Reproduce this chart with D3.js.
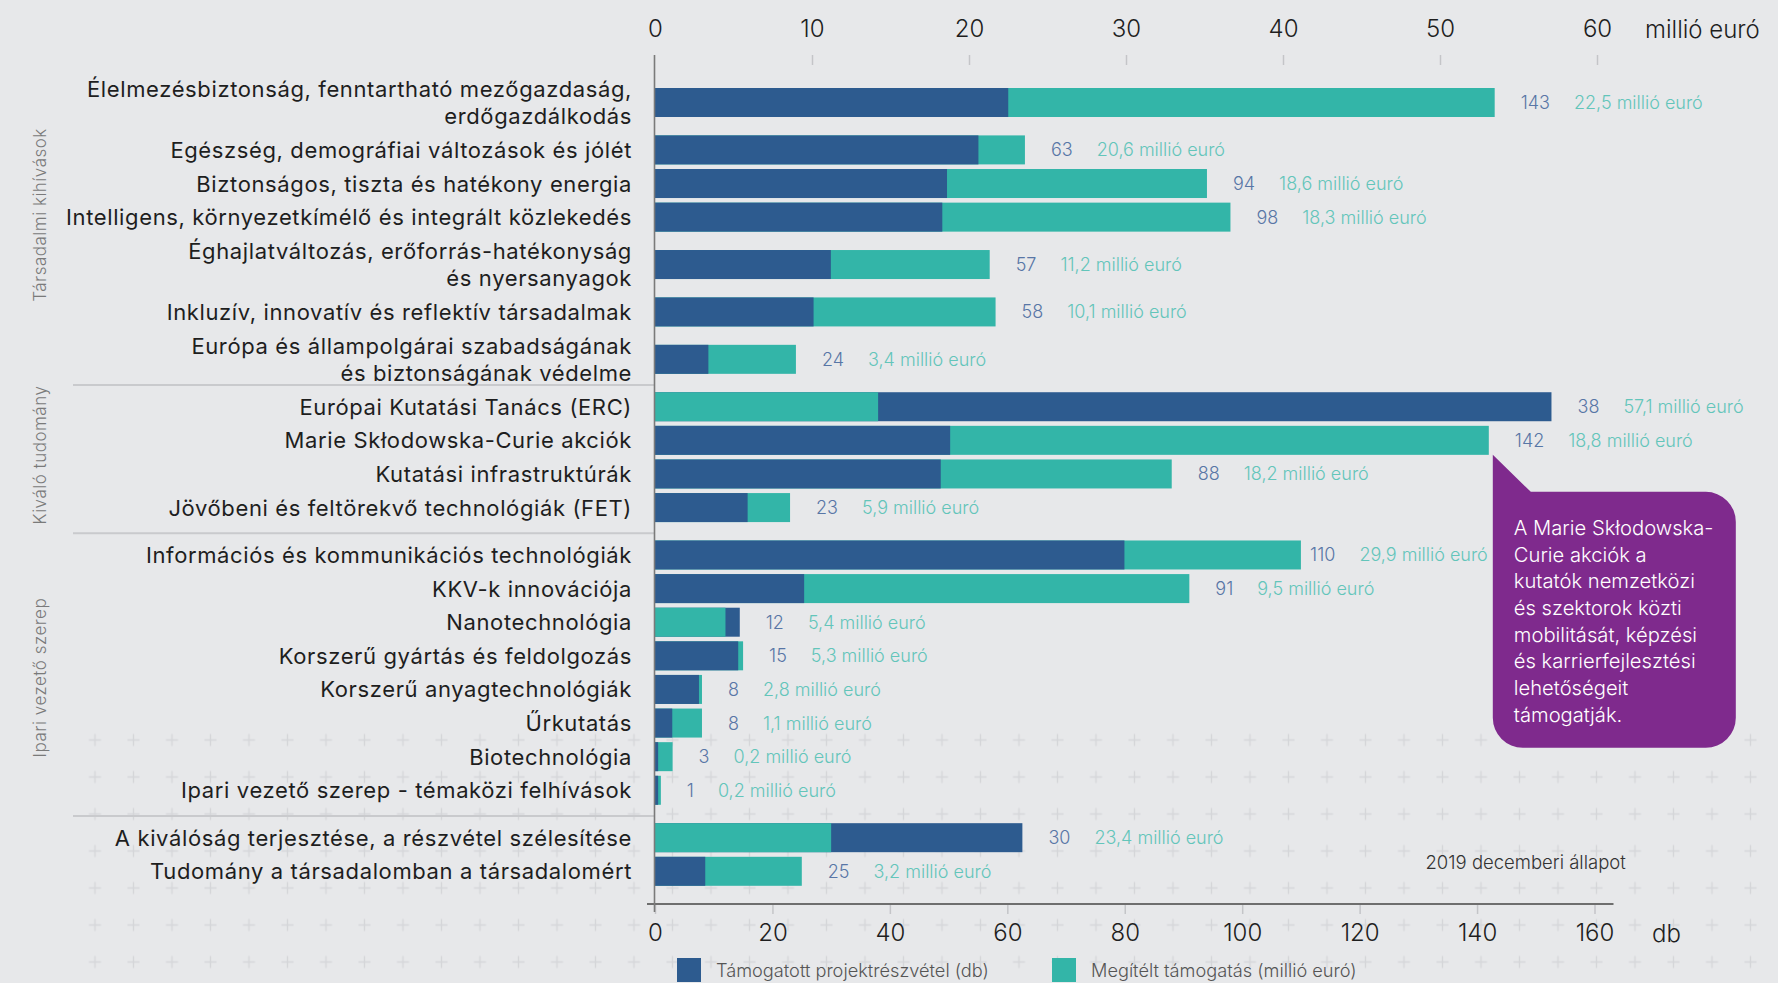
<!DOCTYPE html>
<html><head><meta charset="utf-8">
<script src="https://cdn.jsdelivr.net/npm/d3@7"></script>
<style>
html,body{margin:0;padding:0;background:#e7e8ea;}
svg{display:block;font-family:Inter,"Open Sans",sans-serif;}
</style></head><body>
<svg id="chart" width="1778" height="983"></svg>
<script>
const categories = [
  "Élelmezésbiztonság, fenntartható mezőgazdaság,\nerdőgazdálkodás",
  "Egészség, demográfiai változások és jólét",
  "Biztonságos, tiszta és hatékony energia",
  "Intelligens, környezetkímélő és integrált közlekedés",
  "Éghajlatváltozás, erőforrás-hatékonyság\nés nyersanyagok",
  "Inkluzív, innovatív és reflektív társadalmak",
  "Európa és állampolgárai szabadságának\nés biztonságának védelme",
  "Európai Kutatási Tanács (ERC)",
  "Marie Skłodowska-Curie akciók",
  "Kutatási infrastruktúrák",
  "Jövőbeni és feltörekvő technológiák (FET)",
  "Információs és kommunikációs technológiák",
  "KKV-k innovációja",
  "Nanotechnológia",
  "Korszerű gyártás és feldolgozás",
  "Korszerű anyagtechnológiák",
  "Űrkutatás",
  "Biotechnológia",
  "Ipari vezető szerep - témaközi felhívások",
  "A kiválóság terjesztése, a részvétel szélesítése",
  "Tudomány a társadalomban a társadalomért"
];
const groupNames = ["Társadalmi kihívások", "Kiváló tudomány", "Ipari vezető szerep", ""];
const rowGroup = [0,0,0,0,0,0,0,1,1,1,1,2,2,2,2,2,2,2,2,3,3];
const projectCounts = [143,63,94,98,57,58,24,38,142,88,23,110,91,12,15,8,8,3,1,30,25];
const fundingMEUR = [22.5,20.6,18.6,18.3,11.2,10.1,3.4,57.1,18.8,18.2,5.9,29.9,9.5,5.4,5.3,2.8,1.1,0.2,0.2,23.4,3.2];
const topTicks = [0,10,20,30,40,50,60];
const bottomTicks = [0,20,40,60,80,100,120,140,160];
const topUnit = "millió euró";
const bottomUnit = "db";
const legendLabels = ["Támogatott projektrészvétel (db)", "Megítélt támogatás (millió euró)"];
const calloutLines = ["A Marie Skłodowska-", "Curie akciók a", "kutatók nemzetközi", "és szektorok közti",
  "mobilitását, képzési", "és karrierfejlesztési", "lehetőségeit", "támogatják."];
const calloutRow = 8;
const noteText = "2019 decemberi állapot";

const C = { bg:"#e7e8ea", blue:"#2d5b8f", teal:"#33b5a8", purple:"#7f2a8d",
  countText:"#5876a6", euroText:"#63c5ba", ink:"#1e1e1e", grey:"#7a7a7a" };

const svg = d3.select("#chart");
svg.append("rect").attr("width",1778).attr("height",983).attr("fill",C.bg);

// background plus pattern
const defs = svg.append("defs");
const pat = defs.append("pattern").attr("id","plus").attr("patternUnits","userSpaceOnUse")
  .attr("width",38.5).attr("height",37).attr("x",95-19.25).attr("y",740-18.5);
pat.append("path").attr("d","M13.25,18.5h12M19.25,12.5v12").attr("stroke","#d5d6d9").attr("stroke-width",1.4).attr("fill","none");
svg.append("rect").attr("x",76).attr("y",721.5).attr("width",1702).attr("height",262).attr("fill","url(#plus)");

// scales
const xTop = d3.scaleLinear().domain([0,60]).range([655,1597]);
const xBot = d3.scaleLinear().domain([0,160]).range([655,1594.5]);
const units = [0];
for (let i=1;i<categories.length;i++){
  const extra = categories[i].includes("\n") || categories[i-1].includes("\n") || rowGroup[i]!==rowGroup[i-1];
  units.push(units[i-1] + (extra?1.41:1));
}
const yRow = d3.scaleLinear().domain([0, units[units.length-1]]).range([102.5, 871.3]);
const barH = 29;
const rows = categories.map((c,i)=>({i, label:c, group:rowGroup[i], count:projectCounts[i], eur:fundingMEUR[i], y:yRow(units[i])}));
const axisTopY = 55;

// separators between groups
const seps = rows.filter((r,i)=>i>0 && r.group!==rows[i-1].group).map(r=>(r.y + rows[r.i-1].y)/2 + 2);
svg.append("g").selectAll("line").data(seps).join("line")
  .attr("x1",73).attr("x2",xTop(0)).attr("y1",d=>d).attr("y2",d=>d)
  .attr("stroke","#c9cacd").attr("stroke-width",2);

// group labels (centred between group boundaries)
const bounds = [axisTopY, ...seps];
const gShift = [-5, -4, 3];
svg.append("g").selectAll("text").data(groupNames.slice(0,3)).join("text")
  .attr("transform", (g,i)=>`translate(40,${(bounds[i]+bounds[i+1])/2 + gShift[i]}) rotate(-90)`)
  .attr("text-anchor","middle").attr("dominant-baseline","central")
  .attr("font-size",17).attr("font-weight",300).attr("fill",C.grey).attr("letter-spacing",0.5)
  .text(g=>g);

// bars
const barG = svg.append("g");
rows.forEach(r=>{
  const items = [
    {w: xTop(r.eur)-xTop(0), color:C.blue},
    {w: xBot(r.count)-xBot(0), color:C.teal}
  ].sort((a,b)=>b.w-a.w);
  barG.append("g").selectAll("rect").data(items).join("rect")
    .attr("x",xTop(0)).attr("y",r.y-barH/2).attr("width",d=>d.w).attr("height",barH).attr("fill",d=>d.color);
});

// category labels
const lab = svg.append("g").selectAll("text").data(rows).join("text")
  .attr("text-anchor","end").attr("font-size",22).attr("letter-spacing",0.62).attr("fill",C.ink);
lab.each(function(r){
  const lines = r.label.split("\n");
  const t = d3.select(this);
  lines.forEach((ln,k)=>{
    t.append("tspan").attr("x",632)
      .attr("y", r.y + (k-(lines.length-1)/2)*26.8 + 8).text(ln);
  });
});

// callout geometry
const cr = rows[calloutRow];
const tipX = xBot(cr.count)+4, tipY = cr.y + barH/2;
const L = tipX, T = tipY+37, W = 243, H = 256, R = 30;

// value labels
const valG = svg.append("g");
rows.forEach(r=>{
  const end = Math.max(xTop(r.eur), xBot(r.count));
  const t1 = valG.append("text").attr("y", r.y+6.5)
    .attr("font-size",18).attr("font-weight",300).attr("fill",C.countText).text(r.count);
  const t2 = valG.append("text").attr("y", r.y+6.5)
    .attr("font-size",18).attr("font-weight",300).attr("fill",C.euroText)
    .text(r.eur.toFixed(1).replace(".",",") + " millió euró");
  const w1 = t1.node().getComputedTextLength(), w2 = t2.node().getComputedTextLength();
  let x0 = end + 26;
  const inCallout = r.y > T - barH/2 && r.y < T + H;
  if (inCallout) x0 = Math.min(x0, L - 5 - (w1 + 24 + w2));
  t1.attr("x", x0);
  t2.attr("x", x0 + w1 + 24);
});

// top axis
const topAxis = svg.append("g").attr("transform",`translate(0,${axisTopY+10})`)
  .call(d3.axisTop(xTop).tickValues(topTicks).tickSize(10).tickPadding(18));
topAxis.select(".domain").remove();
topAxis.selectAll(".tick line").attr("stroke","#c4c5c8").attr("stroke-width",1.5).filter(d=>d===0).remove();
topAxis.selectAll(".tick text").attr("font-size",24).attr("font-family","Inter").attr("font-weight",300).attr("fill",C.ink);
svg.append("text").attr("x",1645).attr("y",38).attr("font-size",24).attr("font-weight",300).attr("fill",C.ink).text(topUnit);

// bottom axis
const botY = 904;
const botAxis = svg.append("g").attr("transform",`translate(0,${botY})`)
  .call(d3.axisBottom(xBot).tickValues(bottomTicks).tickSize(10).tickPadding(10));
botAxis.select(".domain").remove();
botAxis.selectAll(".tick line").attr("stroke","#c4c5c8").attr("stroke-width",1.5);
botAxis.selectAll(".tick text").attr("font-size",24).attr("font-family","Inter").attr("font-weight",300).attr("fill",C.ink);
svg.append("line").attr("x1",xBot(0)-8).attr("x2",xBot(160)+19).attr("y1",botY).attr("y2",botY)
  .attr("stroke","#6e6e6e").attr("stroke-width",2);
svg.append("text").attr("x",1652).attr("y",942).attr("font-size",24).attr("font-weight",300).attr("fill",C.ink).text(bottomUnit);

// vertical axis line
svg.append("line").attr("x1",xTop(0)-0.5).attr("x2",xTop(0)-0.5).attr("y1",axisTopY).attr("y2",botY+8)
  .attr("stroke","#7a7a7a").attr("stroke-width",1.6);

// note
svg.append("text").attr("x",1425.5).attr("y",869).attr("font-size",18.5).attr("font-weight",300)
  .attr("fill","#333").text(noteText);

// legend
const leg = svg.append("g").selectAll("g").data(legendLabels).join("g")
  .attr("transform",(d,i)=>`translate(${677 + i*375},958)`);
leg.append("rect").attr("width",24).attr("height",24).attr("fill",(d,i)=>i===0?C.blue:C.teal);
leg.append("text").attr("x",39).attr("y",19).attr("font-size",18.2).attr("font-weight",300)
  .attr("fill","#555").text(d=>d);

// callout
svg.append("path").attr("fill",C.purple).attr("d",
  `M${L},${tipY} L${L+38},${T} H${L+W-R} A${R},${R} 0 0 1 ${L+W},${T+R} V${T+H-R} A${R},${R} 0 0 1 ${L+W-R},${T+H} H${L+R} A${R},${R} 0 0 1 ${L},${T+H-R} Z`);
svg.append("g").selectAll("text").data(calloutLines).join("text")
  .attr("x",L+21).attr("y",(d,i)=>T+43+i*26.7).attr("font-size",20.2).attr("font-weight",300).attr("fill","#fff").text(d=>d);
</script>
</body></html>
